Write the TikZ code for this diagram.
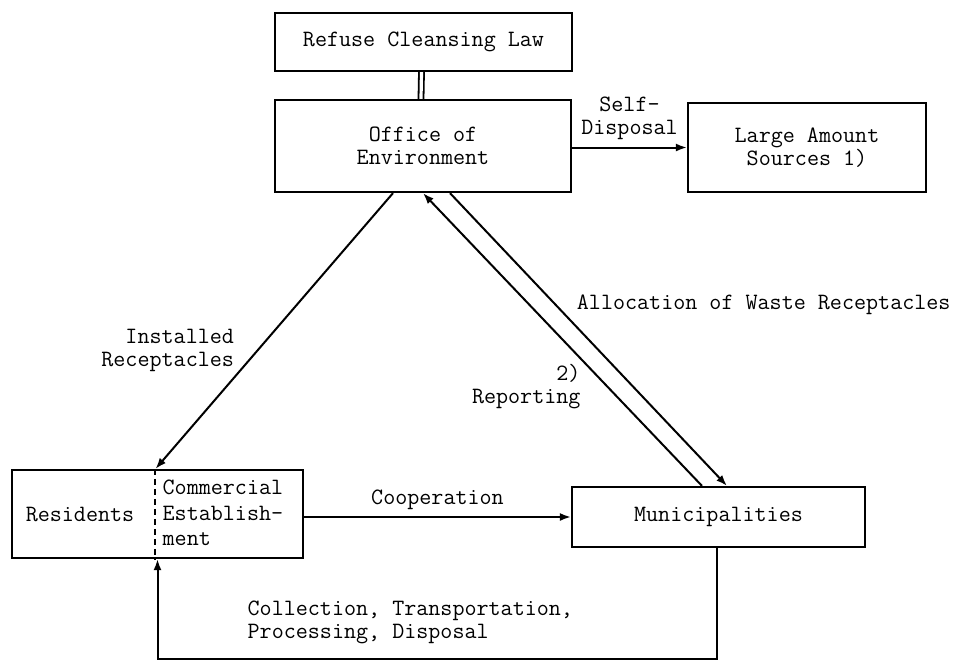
\documentclass[tikz,border=0pt]{standalone}
\usepackage{fontspec}
\usepackage{tikz}
\usetikzlibrary{arrows.meta}
\tikzset{
box/.style={shape=rectangle, draw, line width=1.1pt, align=center, inner sep=0pt},
txt/.style={font=\ttfamily\fontsize{11.7}{11.5}\selectfont},
txtwide/.style={font=\ttfamily\fontsize{11.7}{12.8}\selectfont}}

\begin{document}
\begin{tikzpicture}[x=0.5pt, y=-0.5pt, >={Latex[length=5.5pt,width=4pt]}, line width=1pt, every node/.style={txt}]
    \useasboundingbox (0,0) rectangle (966,661);

                \node[box, minimum width=148.5pt, minimum height=29pt] (law) at (423.5,42) {Refuse Cleansing Law};
                \node[box, minimum width=148pt, minimum height=46pt] (office) at (423,146) {Office of\\Environment};
                \node[box, minimum width=119pt, minimum height=44.5pt] (large) at (807,147.5) {Large Amount\\Sources 1)};
                \node[box, minimum width=145.5pt, minimum height=44pt] (res) at (157.5,514) {};
                \node (resi) at (80,514) {Residents};
                \node[anchor=west, align=left, txtwide] (comm) at (155,513) {Commercial\\Establish-\\ment};
                \node[box, minimum width=146.5pt, minimum height=30pt] (muni) at (718.5,517) {Municipalities};
                \node[anchor=west, align=left] (coll) at (240,622) {Collection, Transportation,\\Processing, Disposal};
                \coordinate (bot) at (0,659);

                \draw[dash pattern=on 3pt off 2pt, line width=0.9pt] (comm.west |- res.north) -- (comm.west |- res.south);
                \draw[double, double distance=1.6pt, line width=0.9pt] ([xshift=-1pt]law.south) -- ([xshift=-1pt]office.north);
                \draw[->] (office.east |- large.west) -- (large.west) node[midway, above, align=center] (selfd) {Self-\\Disposal};
                \draw[->] ([xshift=-15pt]office.south) -- ([xshift=-1pt]res.north) node[pos=0.57, left=8pt, align=right] (inst) {Installed\\Receptacles};
                \draw[->] ([xshift=-8.25pt]muni.north) -- (office.south) node[pos=0.34, left=9.5pt, align=right] (rep) {2)\\Reporting};
                \draw[->] ([xshift=13.5pt]office.south) -- ([xshift=4.25pt]muni.north) node[pos=0.38, right=7pt] (alloc) {Allocation of Waste Receptacles};
                \draw[->] (res.east |- muni.west) -- (muni.west) node[midway, above] (coop) {Cooperation};
                \draw[->] ([xshift=-1pt]muni.south) -- ([xshift=-1pt]muni.south |- bot) -| (res.south);

            \end{tikzpicture}
\end{document}
